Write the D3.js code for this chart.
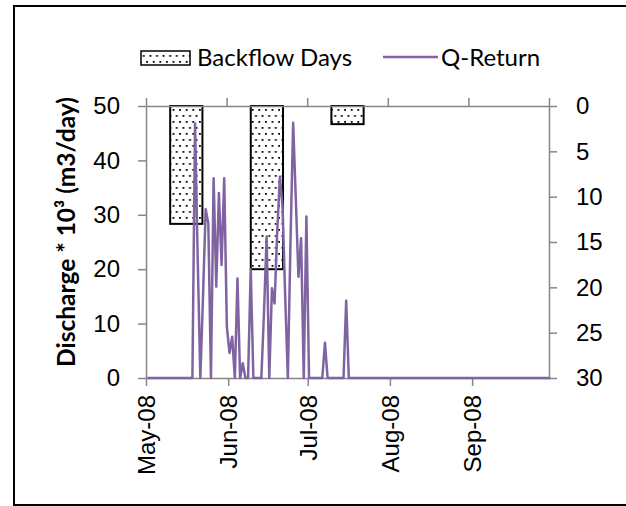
<!DOCTYPE html>
<meta charset="utf-8">
<html>
  <head>
    <title>backflow days and q-return</title>
    <style>
      body { margin: 0; background: #fff; }
      svg { display: block; font-family: Lato, "Open Sans", sans-serif; }

      .axis path, .axis line {
        stroke: #868686;
        stroke-width: 1.5px;
      }
      .axis text {
        font-size: 24px;
        fill: #000;
      }
      .line {
        fill: none;
        stroke: #8064a2;
        stroke-width: 2.5px;
        stroke-linejoin: round;
      }
      .bar {
        fill: url(#dots);
        stroke: #000;
        stroke-width: 2px;
      }
      .legend text {
        font-size: 24px;
        fill: #000;
      }
    </style>
  </head>
  <body>
    <script src="https://d3js.org/d3.v7.min.js"></script>
    <script>

      // bars: backflow days per month (right axis, reversed)
      var months = ["May-08", "Jun-08", "Jul-08", "Aug-08", "Sep-08"];
      var backflowDays = [13, 18, 2, 0, 0];

      // daily Q-Return, 1 May 2008 .. 30 Sep 2008
      var startDate = "2008-05-01", endDate = "2008-09-30";
      var qReturn = [
        0, 0, 0, 0, 0, 0, 0, 0, 0, 0,
        0, 0, 0, 0, 0, 0, 0, 0, 46.8, 22,
        0, 15, 31, 28.5, 0, 36.7, 16.8, 34, 20.8, 36.7,
        9.4, 4.6, 7.6, 0, 18.3, 0, 2.7, 0, 0, 20,
        0, 0, 0, 0, 12, 26, 0, 16.5, 13.7, 27,
        37, 31.5, 15, 0, 25, 46.9, 33, 18.6, 25.7, 0,
        29.7, 0, 0, 0, 0, 0, 0, 6.5, 0, 0,
        0, 0, 0, 0, 0, 14.2, 0, 0, 0, 0,
        0, 0, 0, 0, 0, 0, 0, 0, 0, 0,
        0, 0, 0, 0, 0, 0, 0, 0, 0, 0,
        0, 0, 0, 0, 0, 0, 0, 0, 0, 0,
        0, 0, 0, 0, 0, 0, 0, 0, 0, 0,
        0, 0, 0, 0, 0, 0, 0, 0, 0, 0,
        0, 0, 0, 0, 0, 0, 0, 0, 0, 0,
        0, 0, 0, 0, 0, 0, 0, 0, 0, 0,
        0, 0, 0
      ];

      var leftTicks = [0, 10, 20, 30, 40, 50];
      var rightTicks = [0, 5, 10, 15, 20, 25, 30];
      var seriesNames = ["Backflow Days", "Q-Return"];
      var yTitle = "Discharge * 10\u00b3 (m3/day)";

      var W = 626, H = 506;
      var plot = {left: 146, right: 549, top: 106, bottom: 378};

      var parseDate = d3.timeParse("%Y-%m-%d");
      var t0 = parseDate(startDate);
      var data = qReturn.map(function(v, i) {
        // excel puts each day in the middle of its slot
        return {date: d3.timeHour.offset(d3.timeDay.offset(t0, i), 12), value: v};
      });

      var x = d3.scaleTime()
          .domain([t0, parseDate(endDate)])
          .range([plot.left, plot.right]);
      var yL = d3.scaleLinear().domain([0, 50]).range([plot.bottom, plot.top]);
      var yR = d3.scaleLinear().domain([0, 30]).range([plot.top, plot.bottom]);

      var xBand = d3.scaleBand()
          .domain(months)
          .range([plot.left, plot.right])
          .paddingInner(0.6)
          .paddingOuter(0.3);
      var xEdge = d3.scaleLinear().domain([0, months.length]).range([plot.left, plot.right]);

      var svg = d3.select("body").append("svg")
          .attr("width", W)
          .attr("height", H);

      var defs = svg.append("defs");
      var pat = defs.append("pattern")
          .attr("id", "dots")
          .attr("patternUnits", "userSpaceOnUse")
          .attr("width", 6.6)
          .attr("height", 12);
      pat.append("rect").attr("width", 6.6).attr("height", 12).attr("fill", "#fff");
      pat.append("rect").attr("x", 1).attr("y", 1).attr("width", 1.8).attr("height", 1.8).attr("fill", "#000");
      pat.append("rect").attr("x", 4.3).attr("y", 7).attr("width", 1.8).attr("height", 1.8).attr("fill", "#000");

      // chart frame
      svg.append("rect")
          .attr("x", 14).attr("y", 6)
          .attr("width", 700).attr("height", 499)
          .attr("fill", "none")
          .attr("stroke", "#000")
          .attr("stroke-width", 2);

      // bars hanging from the top
      svg.selectAll(".bar")
          .data(months.filter(function(m, i) { return backflowDays[i] > 0; }))
        .enter().append("rect")
          .attr("class", "bar")
          .attr("x", function(m) { return xBand(m); })
          .attr("width", xBand.bandwidth())
          .attr("y", yR(0))
          .attr("height", function(m) { return yR(backflowDays[months.indexOf(m)]) - yR(0); });

      // axes
      svg.append("g")
          .attr("class", "axis")
          .attr("transform", "translate(0," + plot.top + ")")
          .call(d3.axisTop(xEdge).tickValues(d3.range(months.length + 1)).tickFormat("").tickSize(8).tickSizeOuter(0));

      svg.append("g")
          .attr("class", "axis")
          .attr("transform", "translate(" + plot.left + ",0)")
          .call(d3.axisLeft(yL).tickValues(leftTicks).tickSize(8).tickSizeOuter(0).tickPadding(18));

      svg.append("g")
          .attr("class", "axis")
          .attr("transform", "translate(" + plot.right + ",0)")
          .call(d3.axisRight(yR).tickValues(rightTicks).tickSize(8).tickSizeOuter(0).tickPadding(19));

      var xAxis = svg.append("g")
          .attr("class", "axis")
          .attr("transform", "translate(0," + plot.bottom + ")")
          .call(d3.axisBottom(x)
            .ticks(d3.timeMonth.every(1))
            .tickFormat(d3.timeFormat("%b-%y"))
            .tickSize(8)
            .tickSizeOuter(0));
      xAxis.selectAll("text")
          .attr("transform", "rotate(-90)")
          .attr("text-anchor", "end")
          .attr("x", -17)
          .attr("y", 0)
          .attr("dy", "0.35em");

      // Q-Return line
      var valueline = d3.line()
          .x(function(d) { return x(d.date); })
          .y(function(d) { return yL(d.value); });

      svg.append("path")
          .datum(data)
          .attr("class", "line")
          .attr("d", valueline);

      // y title
      svg.append("text")
          .attr("transform", "translate(65," + ((plot.top + plot.bottom) / 2 - 10) + ") rotate(-90)")
          .attr("text-anchor", "middle")
          .attr("dominant-baseline", "central")
          .style("font-size", "24.5px")
          .style("font-weight", "bold")
          .text(yTitle);

      // legend
      var legend = svg.append("g").attr("class", "legend");
      legend.append("rect")
          .attr("x", 141).attr("y", 51)
          .attr("width", 49).attr("height", 14)
          .attr("fill", "url(#dots)")
          .attr("stroke", "#000")
          .attr("stroke-width", 1.5);
      legend.append("text")
          .attr("x", 197).attr("y", 66)
          .text(seriesNames[0]);
      legend.append("line")
          .attr("x1", 383).attr("x2", 438)
          .attr("y1", 57).attr("y2", 57)
          .attr("stroke", "#8064a2")
          .attr("stroke-width", 2.5);
      legend.append("text")
          .attr("x", 441).attr("y", 66)
          .text(seriesNames[1]);

    </script>
  </body>
</html>
